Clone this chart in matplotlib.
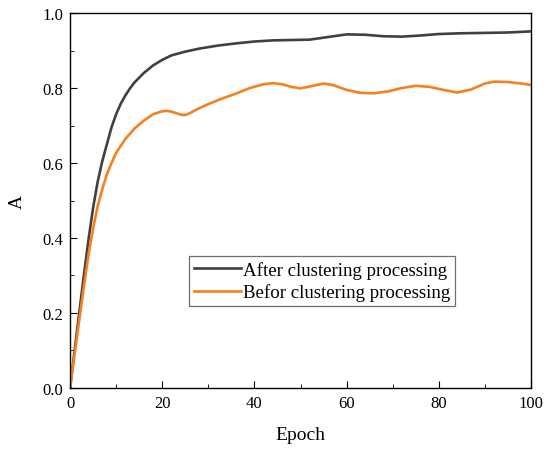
import matplotlib
matplotlib.use("Agg")
import matplotlib.pyplot as plt
from matplotlib.ticker import MultipleLocator

plt.rcParams['font.family'] = ['Liberation Serif', 'DejaVu Serif']

# After clustering processing (dark curve)
epoch_after = [0, 1, 2, 3, 4, 5, 6, 7, 8, 9, 10, 11, 12, 13, 14, 16, 18, 20, 22,
               25, 28, 32, 36, 40, 44, 48, 52, 56, 60, 64, 68, 72, 76, 80, 85,
               90, 95, 100]
acc_after = [0, 0.10, 0.20, 0.30, 0.395, 0.48, 0.55, 0.605, 0.65, 0.695, 0.73,
             0.758, 0.78, 0.799, 0.815, 0.84, 0.86, 0.875, 0.887, 0.897, 0.905,
             0.913, 0.919, 0.924, 0.927, 0.928, 0.929, 0.936, 0.943, 0.942,
             0.938, 0.937, 0.940, 0.944, 0.946, 0.947, 0.948, 0.951]

# Befor clustering processing (orange curve)
epoch_before = [0, 1, 2, 3, 4, 5, 6, 7, 8, 9, 10, 11, 12, 14, 16, 18, 20, 21, 22,
                24, 25, 26, 28, 30, 33, 36, 39, 42, 44, 46, 48, 50, 52, 55, 57,
                60, 63, 66, 69, 72, 75, 78, 81, 84, 87, 90, 92, 95, 98, 100]
acc_before = [0, 0.09, 0.18, 0.27, 0.355, 0.425, 0.485, 0.53, 0.57, 0.60, 0.627,
              0.646, 0.664, 0.692, 0.713, 0.73, 0.738, 0.739, 0.737, 0.729,
              0.728, 0.733, 0.746, 0.757, 0.772, 0.785, 0.80, 0.81, 0.813, 0.81,
              0.803, 0.799, 0.804, 0.812, 0.808, 0.795, 0.787, 0.786, 0.791,
              0.80, 0.806, 0.803, 0.795, 0.788, 0.796, 0.812, 0.817, 0.816,
              0.812, 0.808]

labels = ['After clustering processing', 'Befor clustering processing']
colors = ['#404040', '#f5801e']

fig = plt.figure(figsize=(5.5, 4.52), dpi=100)
ax = fig.add_axes([0.1273, 0.1394, 0.8382, 0.8296])

ax.plot(epoch_after, acc_after, color=colors[0], lw=1.9, label=labels[0])
ax.plot(epoch_before, acc_before, color=colors[1], lw=1.9, label=labels[1])

ax.set_xlim(0, 100)
ax.set_ylim(0, 1.0)
ax.xaxis.set_major_locator(MultipleLocator(20))
ax.xaxis.set_minor_locator(MultipleLocator(10))
ax.yaxis.set_major_locator(MultipleLocator(0.2))
ax.yaxis.set_minor_locator(MultipleLocator(0.1))
ax.tick_params(which='both', direction='in', labelsize=12, pad=5)
ax.tick_params(which='major', length=5)
ax.tick_params(which='minor', length=3)
for s in ax.spines.values():
    s.set_linewidth(1.0)

ax.set_xlabel('Epoch', fontsize=14, labelpad=11)
ax.set_ylabel('A', fontsize=14, labelpad=12)

leg = ax.legend(loc='upper left', bbox_to_anchor=(0.258, 0.352), borderaxespad=0,
                fontsize=13.6, fancybox=False, edgecolor='#707070', framealpha=1,
                handlelength=2.5, handletextpad=0.1, labelspacing=0.25,
                borderpad=0.25)
leg.get_frame().set_linewidth(0.9)

fig.savefig('out.png', dpi=100)
